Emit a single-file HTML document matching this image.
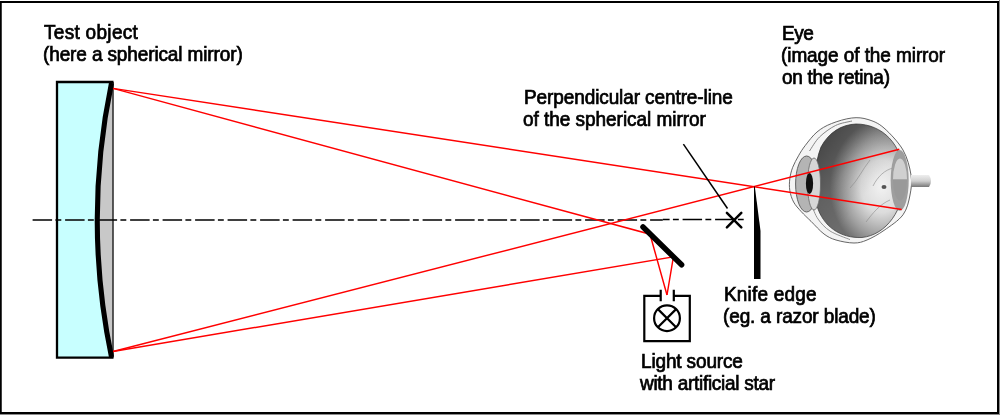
<!DOCTYPE html>
<html><head><meta charset="utf-8">
<style>
html,body{margin:0;padding:0;background:#fff;}
#c{position:relative;width:1000px;height:415px;overflow:hidden;background:#fff;}
svg{position:absolute;left:0;top:0;}
.t{position:absolute;font-family:"Liberation Sans",sans-serif;font-size:19px;line-height:22px;color:#000;white-space:pre;will-change:transform;-webkit-text-stroke:0.7px #000;transform:scaleY(1.07);transform-origin:0 17.5px;}
</style></head><body>
<div id="c">
<svg width="1000" height="415" viewBox="0 0 1000 415">
<defs>
  <radialGradient id="inner" cx="0.75" cy="0.55" r="0.58">
    <stop offset="0" stop-color="#f2f2f2"/>
    <stop offset="0.4" stop-color="#dcdcdc"/>
    <stop offset="0.75" stop-color="#9e9e9e"/>
    <stop offset="1" stop-color="#6c6c6c"/>
  </radialGradient>
  <linearGradient id="hl" x1="0.05" y1="0.05" x2="0.6" y2="0.6">
    <stop offset="0" stop-color="#000" stop-opacity="0.4"/>
    <stop offset="0.6" stop-color="#000" stop-opacity="0.1"/>
    <stop offset="1" stop-color="#000" stop-opacity="0"/>
  </linearGradient>
  <linearGradient id="nerve" x1="0" y1="0" x2="0" y2="1">
    <stop offset="0" stop-color="#eee"/>
    <stop offset="0.5" stop-color="#d0d0d0"/>
    <stop offset="1" stop-color="#777"/>
  </linearGradient>
  <clipPath id="ic"><path d="M856,124 C882,124 903,144 904,177 C905,210 886,235 862,237.5 C840,238.5 823,226 817,206 C813,190 814,165 821,147 C829,132 842,124.5 856,124 Z"/></clipPath>
</defs>
<!-- outer frame -->
<rect x="999" y="0" width="1" height="415" fill="#8c8c8c"/>
<rect x="0" y="414" width="1000" height="1" fill="#8c8c8c"/>
<rect x="0.75" y="2" width="997.25" height="411" fill="none" stroke="#000" stroke-width="2"/>

<!-- eye -->
<g id="eye">
  <path d="M851.7,118.0 C857.8,117.3 862.6,117.8 868.0,119.5 C873.4,121.2 878.2,122.9 884.0,128.0 C889.8,133.1 898.5,142.2 903.0,150.0 C907.5,157.8 909.8,167.5 911.0,175.0 C912.2,182.5 911.3,188.4 910.0,195.0 C908.7,201.6 907.3,208.9 903.0,214.8 C898.7,220.7 890.0,226.2 884.0,230.4 C878.0,234.6 872.0,237.9 867.0,240.0 C862.0,242.1 859.2,243.0 854.0,243.0 C848.8,243.0 841.0,241.5 836.0,240.0 C831.0,238.5 828.2,237.1 824.0,234.0 C819.8,230.9 814.8,225.0 811.0,221.3 C807.2,217.6 804.2,214.9 801.3,211.7 C798.4,208.5 795.5,205.5 793.6,202.0 C791.7,198.5 790.4,194.3 789.8,190.5 C789.2,186.7 789.3,182.8 789.8,178.9 C790.3,175.0 791.2,171.2 792.7,167.3 C794.2,163.5 796.4,159.5 798.5,155.8 C800.6,152.1 802.3,149.3 805.4,145.3 C808.5,141.3 812.7,135.6 817.0,132.0 C821.3,128.4 825.6,125.9 831.4,123.6 C837.2,121.3 845.6,118.7 851.7,118.0 Z" fill="#f4f4f4" stroke="#555" stroke-width="0.9"/>
  <path d="M809.5,151.0 C811.2,148.7 815.2,141.2 819.5,137.0 C823.8,132.8 830.1,128.2 835.5,125.5 C840.9,122.8 849.2,121.8 852.0,121.0" fill="none" stroke="#777" stroke-width="0.9"/>
  <path d="M812.0,206.0 C813.0,208.2 815.0,214.8 818.0,219.0 C821.0,223.2 824.7,227.6 830.0,231.0 C835.3,234.4 846.7,238.2 850.0,239.6" fill="none" stroke="#888" stroke-width="0.9"/>
  <path d="M856,124 C882,124 903,144 904,177 C905,210 886,235 862,237.5 C840,238.5 823,226 817,206 C813,190 814,165 821,147 C829,132 842,124.5 856,124 Z" fill="url(#inner)" stroke="#444" stroke-width="0.8"/>
  <path d="M856,124 C882,124 903,144 904,177 C905,210 886,235 862,237.5 C840,238.5 823,226 817,206 C813,190 814,165 821,147 C829,132 842,124.5 856,124 Z" fill="url(#hl)"/>
  <path d="M884,187 m-2.5,0 a2.5,2 0 1 0 5,0 a2.5,2 0 1 0 -5,0" fill="#555"/>
  <path d="M893,168 C885,170 878,176 873,186 M870,160 C862,170 858,180 850,188 M890,200 C880,204 872,214 866,222" fill="none" stroke="#8a8a8a" stroke-width="0.6"/>
  <ellipse cx="806.6" cy="184" rx="11" ry="28" fill="#b4b4b4" stroke="#555" stroke-width="0.9"/>
  <ellipse cx="814" cy="184" rx="6.5" ry="26" fill="#d6d6d6" stroke="#666" stroke-width="0.8"/>
  <ellipse cx="809.5" cy="183.5" rx="3.6" ry="10.5" fill="#111"/>
  <ellipse cx="899.7" cy="180.4" rx="9" ry="30.4" fill="#9e9e9e"/>
  <path d="M893,179.6 A7,21 0 0 1 907,179.6 Z" fill="#d0d0d0"/>
  <path d="M893,179.6 A7,21 0 0 0 907,179.6 Z" fill="#999"/>
  <path d="M911,175 H929 Q933,181 929,187 H911 Z" fill="url(#nerve)"/>
</g>

<!-- mirror -->
<rect x="57" y="82" width="56" height="275.6" fill="#c8ffff"/>
<path d="M111.5,83 Q83,220 111.5,357 L113,357 L113,83 Z" fill="#c8c8c8"/>
<line x1="113" y1="82" x2="113" y2="357.6" stroke="#333" stroke-width="1.6"/>
<path d="M113.5,82 H57 V357.6 H113.5" fill="none" stroke="#000" stroke-width="2.3"/>
<path d="M111.5,83 Q83,220 111.5,357" fill="none" stroke="#000" stroke-width="5.1"/>

<!-- centre line -->
<line x1="32.6" y1="220" x2="662.8" y2="220" stroke="#000" stroke-width="1.45" stroke-dasharray="19.5 3.3 5.9 3.8"/>
<line x1="662.8" y1="219.5" x2="743.7" y2="219.5" stroke="#000" stroke-width="1.45" stroke-dasharray="19.5 3.3 5.9 3.8" stroke-dashoffset="12.7"/>

<!-- red rays -->
<g fill="none" stroke="#f00" stroke-width="1.45">
  <polyline points="113,88.4 650,234.2 667,295"/>
  <polyline points="113,351.5 673.4,256.8 667,295"/>
  <line x1="113" y1="88.4" x2="901.7" y2="209.5"/>
  <line x1="113" y1="351.5" x2="899.3" y2="149.3"/>
</g>

<!-- cross -->
<g stroke="#000" stroke-width="2.5" stroke-linecap="round">
  <line x1="726.9" y1="212.9" x2="741.3" y2="227.3"/>
  <line x1="726.9" y1="227.3" x2="741.3" y2="212.9"/>
</g>
<line x1="683.4" y1="144.1" x2="727.5" y2="208.5" stroke="#000" stroke-width="1.5"/>

<!-- knife -->
<polygon points="754,186.5 754.8,186.5 760.5,231 760.5,279 754,279" fill="#000"/>

<!-- diagonal mirror -->
<line x1="643" y1="227" x2="681.6" y2="264.8" stroke="#000" stroke-width="5.5" stroke-linecap="round"/>

<!-- light source -->
<g fill="none" stroke="#000" stroke-width="2.2">
  <path d="M660.7,295.8 H644.3 V341.1 H689.8 V295.8 H673.8"/>
  <path d="M660.7,289.7 V301.2 M673.8,289.7 V301.2"/>
  <circle cx="667" cy="318.2" r="12.9"/>
  <path d="M657.9,309.1 L676.1,327.3 M657.9,327.3 L676.1,309.1"/>
</g>
</svg>

<div class="t" style="left:44.0px;top:21.5px;letter-spacing:0.3px">Test object</div>
<div class="t" style="left:42.8px;top:43.7px;letter-spacing:-0.125px">(here a spherical mirror)</div>
<div class="t" style="left:781.8px;top:23.0px;letter-spacing:-0.4px">Eye</div>
<div class="t" style="left:781.0px;top:44.8px;letter-spacing:-0.084px">(image of the mirror</div>
<div class="t" style="left:781.5px;top:66.8px;letter-spacing:-0.308px">on the retina)</div>
<div class="t" style="left:523.9px;top:87.4px;letter-spacing:-0.1px">Perpendicular centre-line</div>
<div class="t" style="left:523.0px;top:109.1px;letter-spacing:-0.036px">of the spherical mirror</div>
<div class="t" style="left:723.9px;top:284.4px;letter-spacing:0.178px">Knife edge</div>
<div class="t" style="left:723.0px;top:306.1px;letter-spacing:-0.133px">(eg. a razor blade)</div>
<div class="t" style="left:641.2px;top:351.3px;letter-spacing:-0.145px">Light source</div>
<div class="t" style="left:640.4px;top:373.0px;letter-spacing:-0.284px">with artificial star</div>
</div>
</body></html>
